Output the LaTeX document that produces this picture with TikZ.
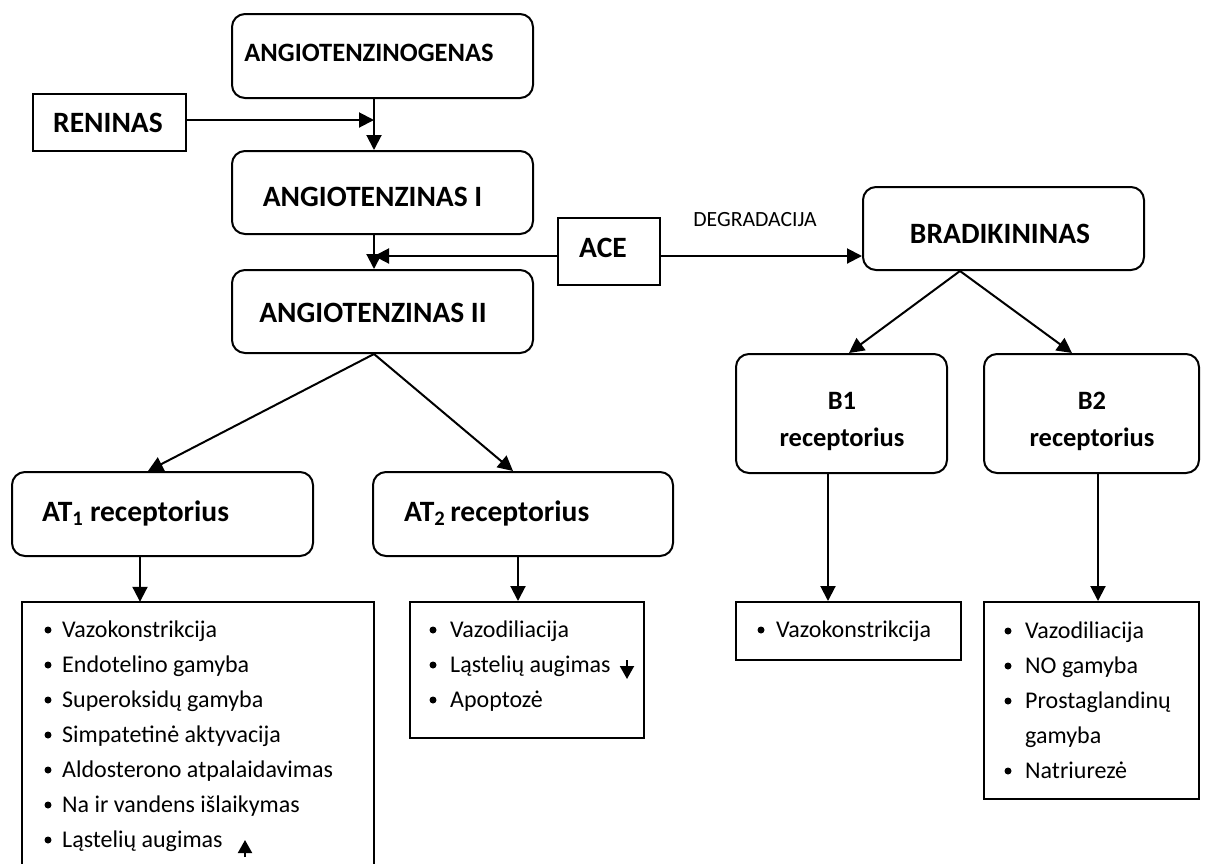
\documentclass[tikz,border=0pt]{standalone}
\usepackage{fontspec}
\setmainfont{Carlito}
\usetikzlibrary{arrows.meta,calc}
\begin{document}
\begin{tikzpicture}[x=1pt,y=-1pt,
  rbox/.style={draw, line width=2pt, rounded corners=13pt, inner sep=0pt},
  sbox/.style={draw, line width=2pt, inner sep=0pt},
  ttl/.style={font=\bfseries\fontsize{29.5}{34}\selectfont, inner sep=0pt},
  ttls/.style={font=\bfseries\fontsize{26.5}{31}\selectfont, inner sep=0pt},
  itm/.style={font=\fontsize{24}{29}\selectfont, inner sep=0pt, anchor=base west},
  arr/.style={line width=2pt, -{Triangle[length=15pt,width=15pt]}},
  sarr/.style={line width=2pt, -{Triangle[length=13pt,width=14pt]}},
  dot/.style={circle, fill, inner sep=0pt, minimum size=7pt}
]
\clip (0,0) rectangle (1208,863);
\fill[white] (0,0) rectangle (1208,863);

% boxes
\node[rbox, minimum width=301pt, minimum height=84pt] (agen) at (382.5,56) {};
\node[sbox, minimum width=153pt, minimum height=57pt] (ren) at (109.5,122.5) {};
\node[rbox, minimum width=301pt, minimum height=83pt] (ai) at (382.5,192.5) {};
\node[rbox, minimum width=301pt, minimum height=83pt] (aii) at (382.5,311.5) {};
\node[sbox, minimum width=102pt, minimum height=67pt] (ace) at (609,251.5) {};
\node[rbox, minimum width=281pt, minimum height=83pt] (brad) at (1003.5,228.5) {};
\node[rbox, minimum width=301pt, minimum height=84pt] (at1) at (162.5,514) {};
\node[rbox, minimum width=300pt, minimum height=84pt] (at2) at (523,514) {};
\node[rbox, minimum width=211pt, minimum height=119pt] (b1) at (841.5,413.5) {};
\node[rbox, minimum width=215pt, minimum height=119pt] (b2) at (1091.5,413.5) {};
\node[minimum width=352pt, minimum height=300pt, inner sep=0pt] (l1) at (198,752) {};
\draw[line width=2pt] (l1.south west) |- (l1.north east) -- (l1.south east);
\node[sbox, minimum width=234pt, minimum height=136pt] (l2) at (527,670) {};
\node[sbox, minimum width=225pt, minimum height=58pt] (l3) at (848.5,631) {};
\node[sbox, minimum width=215pt, minimum height=197pt] (l4) at (1091.5,700.5) {};

% titles
\node[ttls] (agent) at (369,53) {ANGIOTENZINOGENAS};
\node[ttl] (rent) at (108,123) {RENINAS};
\node[ttl] (ait) at (372.5,197) {ANGIOTENZINAS I};
\node[ttl] (aiit) at (373,313) {ANGIOTENZINAS II};
\node[ttl] (acet) at (603,248) {ACE};
\node[ttl] (bradt) at (1000,234) {BRADIKININAS};
\node[ttl, anchor=base west] (at1t) at (42,521) {AT\textsubscript{1} receptorius};
\node[ttl, anchor=base west] (at2t) at (404,521) {AT\textsubscript{2}\,receptorius};
\node[ttls] (b1a) at (842,401) {B1};
\node[ttls, anchor=base] (b1b) at (842,446) {receptorius};
\node[ttls] (b2a) at (1092,401) {B2};
\node[ttls, anchor=base] (b2b) at (1092,446) {receptorius};
\node[font=\fontsize{21.7}{25}\selectfont, inner sep=0pt] (deg) at (755,219.5) {DEGRADACIJA};

% lists
\foreach \t [count=\i] in {Vazokonstrikcija, Endotelino gamyba, Superoksidų gamyba, Simpatetinė aktyvacija, Aldosterono atpalaidavimas, Na ir vandens išlaikymas, Ląstelių augimas}{
  \node[dot] (l1d\i) at (48,{630+35*(\i-1)}) {};
  \node[itm] (l1i\i) at (62,{637+35*(\i-1)}) {\t};
}
\foreach \t [count=\i] in {Vazodiliacija, Ląstelių augimas, Apoptozė}{
  \node[dot] (l2d\i) at (433,{630+35*(\i-1)}) {};
  \node[itm] (l2i\i) at (450,{637+35*(\i-1)}) {\t};
}
\node[dot] (l3d1) at (761,630) {};
\node[itm] (l3i1) at (776,637) {Vazokonstrikcija};
\node[dot] (l4d1) at (1008,631) {};
\node[itm] (l4i1) at (1025,638) {Vazodiliacija};
\node[dot] (l4d2) at (1008,666) {};
\node[itm] (l4i2) at (1025,673) {NO gamyba};
\node[dot] (l4d3) at (1008,701) {};
\node[itm] (l4i3) at (1025,708) {Prostaglandinų};
\node[itm] (l4i4) at (1025,743) {gamyba};
\node[dot] (l4d5) at (1008,771) {};
\node[itm] (l4i5) at (1025,778) {Natriurezė};

% connectors
\coordinate (v) at (374,0);
\coordinate (rj) at (374,120);
\coordinate (aj) at (374,256);
\draw[arr] (agen.south -| v) -- (ai.north -| v);
\draw[arr] (ren.east |- rj) -- (rj);
\draw[arr] (ai.south -| v) -- (aii.north -| v);
\draw[arr] (ace.west |- aj) -- (aj);
\draw[arr] (ace.east |- aj) -- (brad.west |- aj);
\draw[arr] (aii.south -| v) -- ([xshift=-14.5pt]at1.north);
\draw[arr] (aii.south -| v) -- ([xshift=-10pt]at2.north);
\draw[arr] ([xshift=-43.5pt]brad.south) -- ([xshift=7.5pt]b1.north);
\draw[arr] ([xshift=-43.5pt]brad.south) -- ([xshift=-19.5pt]b2.north);
\coordinate (x1) at (140,0);
\coordinate (x2) at (518,0);
\coordinate (x3) at (828,0);
\coordinate (x4) at (1098,0);
\draw[arr] (at1.south -| x1) -- (l1.north -| x1);
\draw[arr] (at2.south -| x2) -- (l2.north -| x2);
\draw[arr] (b1.south -| x3) -- (l3.north -| x3);
\draw[arr] (b2.south -| x4) -- (l4.north -| x4);
% small arrows in lists
\coordinate (ua1) at (245,857);
\coordinate (ua2) at (245,840);
\draw[sarr] (ua1) -- (ua2);
\coordinate (da1) at (627,660);
\coordinate (da2) at (627,679);
\draw[sarr] (da1) -- (da2);
\end{tikzpicture}
\end{document}
